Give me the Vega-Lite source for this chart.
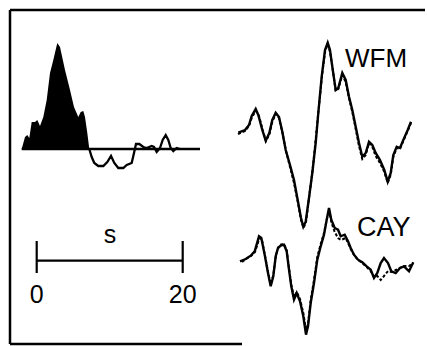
{
  "$schema": "https://vega.github.io/schema/vega-lite/v6.json",
  "width": 427,
  "height": 346,
  "autosize": {"type": "fit", "contains": "padding"},
  "padding": 0,
  "background": "white",
  "config": {"view": {"stroke": null}},
  "datasets": {
    "stfPos": [
      {"x": 21.7, "y": 149}, {"x": 25, "y": 137}, {"x": 27.3, "y": 135}, {"x": 29.3, "y": 138},
      {"x": 31.7, "y": 122}, {"x": 35, "y": 122}, {"x": 37.3, "y": 120}, {"x": 40, "y": 126},
      {"x": 43.3, "y": 117}, {"x": 46.7, "y": 100}, {"x": 50, "y": 73}, {"x": 53.3, "y": 60},
      {"x": 57.3, "y": 43}, {"x": 60, "y": 47}, {"x": 65, "y": 70}, {"x": 70, "y": 90},
      {"x": 74, "y": 107}, {"x": 78.3, "y": 117}, {"x": 80.7, "y": 112}, {"x": 83.3, "y": 111},
      {"x": 85, "y": 117}, {"x": 87.3, "y": 133}, {"x": 89.3, "y": 149}
    ],
    "stfNeg": [
      {"x": 89.3, "y": 149}, {"x": 91.7, "y": 157}, {"x": 94.3, "y": 163}, {"x": 98.3, "y": 166},
      {"x": 103.3, "y": 166}, {"x": 107.3, "y": 162}, {"x": 111, "y": 156}, {"x": 114.3, "y": 163},
      {"x": 118.3, "y": 168}, {"x": 123.3, "y": 168}, {"x": 126.7, "y": 165}, {"x": 131.7, "y": 163},
      {"x": 134, "y": 153}, {"x": 136, "y": 144}, {"x": 139.3, "y": 144}, {"x": 143.3, "y": 147},
      {"x": 146.7, "y": 148}, {"x": 151.7, "y": 146}, {"x": 154, "y": 147}, {"x": 156.7, "y": 152},
      {"x": 160, "y": 148}, {"x": 162.7, "y": 140}, {"x": 165.7, "y": 135}, {"x": 168.3, "y": 140},
      {"x": 170.7, "y": 148}, {"x": 173.3, "y": 151}, {"x": 176.7, "y": 148}, {"x": 180, "y": 149}
    ],
    "waves": [
      {"trace": "WFM", "kind": "obs", "x": 238.3, "y": 132.7}, {"trace": "WFM", "kind": "obs", "x": 245, "y": 130},
      {"trace": "WFM", "kind": "obs", "x": 249, "y": 125}, {"trace": "WFM", "kind": "obs", "x": 251.7, "y": 116},
      {"trace": "WFM", "kind": "obs", "x": 255.7, "y": 109}, {"trace": "WFM", "kind": "obs", "x": 258.3, "y": 115},
      {"trace": "WFM", "kind": "obs", "x": 262.3, "y": 130}, {"trace": "WFM", "kind": "obs", "x": 265.7, "y": 140.7},
      {"trace": "WFM", "kind": "obs", "x": 269.3, "y": 133}, {"trace": "WFM", "kind": "obs", "x": 272.3, "y": 120},
      {"trace": "WFM", "kind": "obs", "x": 275.7, "y": 112.7}, {"trace": "WFM", "kind": "obs", "x": 279, "y": 117},
      {"trace": "WFM", "kind": "obs", "x": 282.3, "y": 131.7}, {"trace": "WFM", "kind": "obs", "x": 285.7, "y": 150},
      {"trace": "WFM", "kind": "obs", "x": 290, "y": 165}, {"trace": "WFM", "kind": "obs", "x": 294, "y": 180},
      {"trace": "WFM", "kind": "obs", "x": 297.7, "y": 200}, {"trace": "WFM", "kind": "obs", "x": 301, "y": 218},
      {"trace": "WFM", "kind": "obs", "x": 303.3, "y": 226.7}, {"trace": "WFM", "kind": "obs", "x": 305.7, "y": 221.7},
      {"trace": "WFM", "kind": "obs", "x": 308.3, "y": 203}, {"trace": "WFM", "kind": "obs", "x": 312.3, "y": 173},
      {"trace": "WFM", "kind": "obs", "x": 315.7, "y": 143}, {"trace": "WFM", "kind": "obs", "x": 318.3, "y": 113},
      {"trace": "WFM", "kind": "obs", "x": 321.7, "y": 76.7}, {"trace": "WFM", "kind": "obs", "x": 325, "y": 50},
      {"trace": "WFM", "kind": "obs", "x": 327.7, "y": 42.7}, {"trace": "WFM", "kind": "obs", "x": 330, "y": 50},
      {"trace": "WFM", "kind": "obs", "x": 332.3, "y": 66.7}, {"trace": "WFM", "kind": "obs", "x": 335.7, "y": 90},
      {"trace": "WFM", "kind": "obs", "x": 338.3, "y": 88}, {"trace": "WFM", "kind": "obs", "x": 342.3, "y": 73},
      {"trace": "WFM", "kind": "obs", "x": 345.7, "y": 80}, {"trace": "WFM", "kind": "obs", "x": 349, "y": 96.7},
      {"trace": "WFM", "kind": "obs", "x": 352.3, "y": 110}, {"trace": "WFM", "kind": "obs", "x": 355.7, "y": 126.7},
      {"trace": "WFM", "kind": "obs", "x": 359, "y": 143}, {"trace": "WFM", "kind": "obs", "x": 362.3, "y": 156.7},
      {"trace": "WFM", "kind": "obs", "x": 365.7, "y": 153}, {"trace": "WFM", "kind": "obs", "x": 369, "y": 141.7},
      {"trace": "WFM", "kind": "obs", "x": 372.3, "y": 145}, {"trace": "WFM", "kind": "obs", "x": 375.7, "y": 153},
      {"trace": "WFM", "kind": "obs", "x": 380, "y": 160}, {"trace": "WFM", "kind": "obs", "x": 384.3, "y": 170},
      {"trace": "WFM", "kind": "obs", "x": 387.7, "y": 181.7}, {"trace": "WFM", "kind": "obs", "x": 390.7, "y": 173},
      {"trace": "WFM", "kind": "obs", "x": 393.3, "y": 155}, {"trace": "WFM", "kind": "obs", "x": 396.7, "y": 146.7},
      {"trace": "WFM", "kind": "obs", "x": 400, "y": 148}, {"trace": "WFM", "kind": "obs", "x": 403.3, "y": 140},
      {"trace": "WFM", "kind": "obs", "x": 407.7, "y": 130}, {"trace": "WFM", "kind": "obs", "x": 411, "y": 121.7},

      {"trace": "WFM", "kind": "syn", "x": 238, "y": 134}, {"trace": "WFM", "kind": "syn", "x": 245, "y": 131},
      {"trace": "WFM", "kind": "syn", "x": 249, "y": 126}, {"trace": "WFM", "kind": "syn", "x": 252, "y": 117},
      {"trace": "WFM", "kind": "syn", "x": 256, "y": 111}, {"trace": "WFM", "kind": "syn", "x": 259, "y": 116},
      {"trace": "WFM", "kind": "syn", "x": 263, "y": 131}, {"trace": "WFM", "kind": "syn", "x": 266, "y": 141},
      {"trace": "WFM", "kind": "syn", "x": 269.5, "y": 134}, {"trace": "WFM", "kind": "syn", "x": 272.5, "y": 121},
      {"trace": "WFM", "kind": "syn", "x": 276, "y": 114}, {"trace": "WFM", "kind": "syn", "x": 279, "y": 118},
      {"trace": "WFM", "kind": "syn", "x": 282.5, "y": 133}, {"trace": "WFM", "kind": "syn", "x": 286, "y": 151},
      {"trace": "WFM", "kind": "syn", "x": 290, "y": 167}, {"trace": "WFM", "kind": "syn", "x": 294, "y": 183},
      {"trace": "WFM", "kind": "syn", "x": 298, "y": 203}, {"trace": "WFM", "kind": "syn", "x": 301, "y": 220},
      {"trace": "WFM", "kind": "syn", "x": 303.5, "y": 228}, {"trace": "WFM", "kind": "syn", "x": 306, "y": 222},
      {"trace": "WFM", "kind": "syn", "x": 308.5, "y": 202}, {"trace": "WFM", "kind": "syn", "x": 312.5, "y": 171},
      {"trace": "WFM", "kind": "syn", "x": 315.5, "y": 141}, {"trace": "WFM", "kind": "syn", "x": 318.5, "y": 111},
      {"trace": "WFM", "kind": "syn", "x": 322, "y": 76}, {"trace": "WFM", "kind": "syn", "x": 325, "y": 52},
      {"trace": "WFM", "kind": "syn", "x": 327.7, "y": 44}, {"trace": "WFM", "kind": "syn", "x": 330, "y": 52},
      {"trace": "WFM", "kind": "syn", "x": 332.5, "y": 68}, {"trace": "WFM", "kind": "syn", "x": 335.7, "y": 91},
      {"trace": "WFM", "kind": "syn", "x": 338.3, "y": 89}, {"trace": "WFM", "kind": "syn", "x": 342.3, "y": 75},
      {"trace": "WFM", "kind": "syn", "x": 345.7, "y": 82}, {"trace": "WFM", "kind": "syn", "x": 349, "y": 98},
      {"trace": "WFM", "kind": "syn", "x": 352.3, "y": 112}, {"trace": "WFM", "kind": "syn", "x": 355.7, "y": 129},
      {"trace": "WFM", "kind": "syn", "x": 359, "y": 146}, {"trace": "WFM", "kind": "syn", "x": 362.3, "y": 159},
      {"trace": "WFM", "kind": "syn", "x": 365.7, "y": 155}, {"trace": "WFM", "kind": "syn", "x": 369, "y": 143},
      {"trace": "WFM", "kind": "syn", "x": 372.3, "y": 147}, {"trace": "WFM", "kind": "syn", "x": 375.7, "y": 156},
      {"trace": "WFM", "kind": "syn", "x": 380, "y": 163}, {"trace": "WFM", "kind": "syn", "x": 384.3, "y": 172},
      {"trace": "WFM", "kind": "syn", "x": 387.7, "y": 183}, {"trace": "WFM", "kind": "syn", "x": 390.7, "y": 175},
      {"trace": "WFM", "kind": "syn", "x": 393.3, "y": 157}, {"trace": "WFM", "kind": "syn", "x": 396.7, "y": 148},
      {"trace": "WFM", "kind": "syn", "x": 400, "y": 149}, {"trace": "WFM", "kind": "syn", "x": 403.3, "y": 141},
      {"trace": "WFM", "kind": "syn", "x": 407.7, "y": 131}, {"trace": "WFM", "kind": "syn", "x": 411, "y": 123},

      {"trace": "CAY", "kind": "obs", "x": 240, "y": 261.3}, {"trace": "CAY", "kind": "obs", "x": 245.7, "y": 259},
      {"trace": "CAY", "kind": "obs", "x": 250.7, "y": 255.7}, {"trace": "CAY", "kind": "obs", "x": 254.7, "y": 251.3},
      {"trace": "CAY", "kind": "obs", "x": 259, "y": 236.3}, {"trace": "CAY", "kind": "obs", "x": 261.3, "y": 238},
      {"trace": "CAY", "kind": "obs", "x": 264.7, "y": 254.7}, {"trace": "CAY", "kind": "obs", "x": 268, "y": 273},
      {"trace": "CAY", "kind": "obs", "x": 270.7, "y": 286.3}, {"trace": "CAY", "kind": "obs", "x": 273.3, "y": 276.3},
      {"trace": "CAY", "kind": "obs", "x": 275.7, "y": 256.3}, {"trace": "CAY", "kind": "obs", "x": 278, "y": 248},
      {"trace": "CAY", "kind": "obs", "x": 280.7, "y": 245.7}, {"trace": "CAY", "kind": "obs", "x": 284, "y": 244.7},
      {"trace": "CAY", "kind": "obs", "x": 286.7, "y": 251.3}, {"trace": "CAY", "kind": "obs", "x": 289, "y": 269.7},
      {"trace": "CAY", "kind": "obs", "x": 291.3, "y": 286.3}, {"trace": "CAY", "kind": "obs", "x": 294, "y": 299.7},
      {"trace": "CAY", "kind": "obs", "x": 296.7, "y": 293}, {"trace": "CAY", "kind": "obs", "x": 300, "y": 301.3},
      {"trace": "CAY", "kind": "obs", "x": 303.3, "y": 316.3}, {"trace": "CAY", "kind": "obs", "x": 306, "y": 334.7},
      {"trace": "CAY", "kind": "obs", "x": 308, "y": 326.3}, {"trace": "CAY", "kind": "obs", "x": 310.7, "y": 303},
      {"trace": "CAY", "kind": "obs", "x": 314, "y": 283}, {"trace": "CAY", "kind": "obs", "x": 317.3, "y": 259.7},
      {"trace": "CAY", "kind": "obs", "x": 320.7, "y": 246.3}, {"trace": "CAY", "kind": "obs", "x": 324, "y": 234.7},
      {"trace": "CAY", "kind": "obs", "x": 326.7, "y": 219.7}, {"trace": "CAY", "kind": "obs", "x": 329, "y": 208},
      {"trace": "CAY", "kind": "obs", "x": 331.3, "y": 219.7}, {"trace": "CAY", "kind": "obs", "x": 334.7, "y": 228},
      {"trace": "CAY", "kind": "obs", "x": 338, "y": 229.7}, {"trace": "CAY", "kind": "obs", "x": 340.7, "y": 236.3},
      {"trace": "CAY", "kind": "obs", "x": 344.7, "y": 234.7}, {"trace": "CAY", "kind": "obs", "x": 348, "y": 241.3},
      {"trace": "CAY", "kind": "obs", "x": 350.7, "y": 248}, {"trace": "CAY", "kind": "obs", "x": 354, "y": 254.7},
      {"trace": "CAY", "kind": "obs", "x": 358, "y": 259.7}, {"trace": "CAY", "kind": "obs", "x": 362.3, "y": 262.3},
      {"trace": "CAY", "kind": "obs", "x": 366.7, "y": 266.3}, {"trace": "CAY", "kind": "obs", "x": 370.7, "y": 269.7},
      {"trace": "CAY", "kind": "obs", "x": 374, "y": 278}, {"trace": "CAY", "kind": "obs", "x": 377.3, "y": 273},
      {"trace": "CAY", "kind": "obs", "x": 380.7, "y": 263}, {"trace": "CAY", "kind": "obs", "x": 384, "y": 258},
      {"trace": "CAY", "kind": "obs", "x": 388, "y": 263}, {"trace": "CAY", "kind": "obs", "x": 391.3, "y": 271.3},
      {"trace": "CAY", "kind": "obs", "x": 395.7, "y": 273}, {"trace": "CAY", "kind": "obs", "x": 400, "y": 268},
      {"trace": "CAY", "kind": "obs", "x": 404, "y": 266.3}, {"trace": "CAY", "kind": "obs", "x": 409, "y": 271.3},
      {"trace": "CAY", "kind": "obs", "x": 413.3, "y": 262.3},

      {"trace": "CAY", "kind": "syn", "x": 242, "y": 262}, {"trace": "CAY", "kind": "syn", "x": 246, "y": 259},
      {"trace": "CAY", "kind": "syn", "x": 251, "y": 256}, {"trace": "CAY", "kind": "syn", "x": 255, "y": 252},
      {"trace": "CAY", "kind": "syn", "x": 259.5, "y": 238}, {"trace": "CAY", "kind": "syn", "x": 262, "y": 240},
      {"trace": "CAY", "kind": "syn", "x": 265, "y": 256}, {"trace": "CAY", "kind": "syn", "x": 268, "y": 272},
      {"trace": "CAY", "kind": "syn", "x": 270.7, "y": 284}, {"trace": "CAY", "kind": "syn", "x": 273.3, "y": 275},
      {"trace": "CAY", "kind": "syn", "x": 276, "y": 255}, {"trace": "CAY", "kind": "syn", "x": 278.5, "y": 247},
      {"trace": "CAY", "kind": "syn", "x": 281, "y": 244.5}, {"trace": "CAY", "kind": "syn", "x": 284, "y": 244},
      {"trace": "CAY", "kind": "syn", "x": 286.7, "y": 250}, {"trace": "CAY", "kind": "syn", "x": 289, "y": 268},
      {"trace": "CAY", "kind": "syn", "x": 291.3, "y": 285}, {"trace": "CAY", "kind": "syn", "x": 294, "y": 297},
      {"trace": "CAY", "kind": "syn", "x": 296.7, "y": 292}, {"trace": "CAY", "kind": "syn", "x": 300, "y": 299},
      {"trace": "CAY", "kind": "syn", "x": 303.3, "y": 313}, {"trace": "CAY", "kind": "syn", "x": 306, "y": 330},
      {"trace": "CAY", "kind": "syn", "x": 308, "y": 324}, {"trace": "CAY", "kind": "syn", "x": 310.7, "y": 300},
      {"trace": "CAY", "kind": "syn", "x": 314, "y": 280}, {"trace": "CAY", "kind": "syn", "x": 317.3, "y": 257},
      {"trace": "CAY", "kind": "syn", "x": 320.7, "y": 244}, {"trace": "CAY", "kind": "syn", "x": 324, "y": 233},
      {"trace": "CAY", "kind": "syn", "x": 326.7, "y": 220}, {"trace": "CAY", "kind": "syn", "x": 329, "y": 210},
      {"trace": "CAY", "kind": "syn", "x": 331.3, "y": 222}, {"trace": "CAY", "kind": "syn", "x": 334.7, "y": 232},
      {"trace": "CAY", "kind": "syn", "x": 338, "y": 238}, {"trace": "CAY", "kind": "syn", "x": 341, "y": 240},
      {"trace": "CAY", "kind": "syn", "x": 345.7, "y": 238}, {"trace": "CAY", "kind": "syn", "x": 348, "y": 243},
      {"trace": "CAY", "kind": "syn", "x": 350.7, "y": 249}, {"trace": "CAY", "kind": "syn", "x": 354, "y": 255},
      {"trace": "CAY", "kind": "syn", "x": 358, "y": 260}, {"trace": "CAY", "kind": "syn", "x": 362.3, "y": 263},
      {"trace": "CAY", "kind": "syn", "x": 366.7, "y": 267}, {"trace": "CAY", "kind": "syn", "x": 370.7, "y": 271},
      {"trace": "CAY", "kind": "syn", "x": 374, "y": 277}, {"trace": "CAY", "kind": "syn", "x": 377.3, "y": 276},
      {"trace": "CAY", "kind": "syn", "x": 380.7, "y": 280}, {"trace": "CAY", "kind": "syn", "x": 384, "y": 276},
      {"trace": "CAY", "kind": "syn", "x": 388, "y": 271}, {"trace": "CAY", "kind": "syn", "x": 391.3, "y": 272},
      {"trace": "CAY", "kind": "syn", "x": 395.7, "y": 270}, {"trace": "CAY", "kind": "syn", "x": 400, "y": 268},
      {"trace": "CAY", "kind": "syn", "x": 404, "y": 266}, {"trace": "CAY", "kind": "syn", "x": 409, "y": 266},
      {"trace": "CAY", "kind": "syn", "x": 413.3, "y": 263}
    ],
    "frame": [
      {"x": 10, "x2": 10, "y": 10, "y2": 344},
      {"x": 10, "x2": 425, "y": 10, "y2": 10},
      {"x": 10, "x2": 242, "y": 344, "y2": 344}
    ],
    "scalebar": [
      {"x": 36.7, "x2": 182.7, "y": 260.7, "y2": 260.7},
      {"x": 36.7, "x2": 36.7, "y": 241, "y2": 273},
      {"x": 182.7, "x2": 182.7, "y": 241, "y2": 273}
    ],
    "baseline": [
      {"x": 21.7, "x2": 200, "y": 149, "y2": 149}
    ],
    "labels": [
      {"label": "WFM", "group": "station", "x": 345, "y": 67},
      {"label": "CAY", "group": "station2", "x": 357, "y": 236},
      {"label": "s", "group": "unit", "x": 110, "y": 243},
      {"label": "0", "group": "tick", "x": 36.7, "y": 303},
      {"label": "20", "group": "tick", "x": 182.7, "y": 303}
    ]
  },
  "layer": [
    {
      "data": {"name": "stfPos"},
      "mark": {"type": "area", "color": "black", "interpolate": "linear"},
      "encoding": {
        "x": {"field": "x", "type": "quantitative", "scale": {"domain": [0, 427], "nice": false, "zero": false}, "axis": null},
        "y": {"field": "y", "type": "quantitative", "scale": {"domain": [0, 346], "nice": false, "zero": false, "reverse": true}, "axis": null},
        "y2": {"datum": 149}
      }
    },
    {
      "data": {"name": "stfNeg"},
      "mark": {"type": "line", "color": "black", "strokeWidth": 2.3},
      "encoding": {
        "x": {"field": "x", "type": "quantitative"},
        "y": {"field": "y", "type": "quantitative"}
      }
    },
    {
      "data": {"name": "baseline"},
      "mark": {"type": "rule", "color": "black", "strokeWidth": 2.5},
      "encoding": {
        "x": {"field": "x", "type": "quantitative"}, "x2": {"field": "x2"},
        "y": {"field": "y", "type": "quantitative"}, "y2": {"field": "y2"}
      }
    },
    {
      "data": {"name": "frame"},
      "mark": {"type": "rule", "color": "black", "strokeWidth": 2.5},
      "encoding": {
        "x": {"field": "x", "type": "quantitative"}, "x2": {"field": "x2"},
        "y": {"field": "y", "type": "quantitative"}, "y2": {"field": "y2"}
      }
    },
    {
      "data": {"name": "scalebar"},
      "mark": {"type": "rule", "color": "black", "strokeWidth": 2.2},
      "encoding": {
        "x": {"field": "x", "type": "quantitative"}, "x2": {"field": "x2"},
        "y": {"field": "y", "type": "quantitative"}, "y2": {"field": "y2"}
      }
    },
    {
      "data": {"name": "waves"},
      "transform": [{"filter": "datum.kind === 'syn'"}],
      "mark": {"type": "line", "color": "black", "strokeWidth": 2, "strokeDash": [3, 2]},
      "encoding": {
        "x": {"field": "x", "type": "quantitative"},
        "y": {"field": "y", "type": "quantitative"},
        "detail": {"field": "trace"}
      }
    },
    {
      "data": {"name": "waves"},
      "transform": [{"filter": "datum.kind === 'obs'"}],
      "mark": {"type": "line", "color": "black", "strokeWidth": 2.4},
      "encoding": {
        "x": {"field": "x", "type": "quantitative"},
        "y": {"field": "y", "type": "quantitative"},
        "detail": {"field": "trace"}
      }
    },
    {
      "data": {"name": "labels"},
      "transform": [{"filter": "datum.group === 'station'"}],
      "mark": {"type": "text", "font": "Liberation Sans", "fontSize": 26, "align": "left", "baseline": "alphabetic", "color": "black"},
      "encoding": {
        "x": {"field": "x", "type": "quantitative"},
        "y": {"field": "y", "type": "quantitative"},
        "text": {"field": "label"}
      }
    },
    {
      "data": {"name": "labels"},
      "transform": [{"filter": "datum.group === 'station2'"}],
      "mark": {"type": "text", "font": "Liberation Sans", "fontSize": 27, "align": "left", "baseline": "alphabetic", "color": "black"},
      "encoding": {
        "x": {"field": "x", "type": "quantitative"},
        "y": {"field": "y", "type": "quantitative"},
        "text": {"field": "label"}
      }
    },
    {
      "data": {"name": "labels"},
      "transform": [{"filter": "datum.group === 'unit' || datum.group === 'tick'"}],
      "mark": {"type": "text", "font": "Liberation Sans", "fontSize": 25, "align": "center", "baseline": "alphabetic", "color": "black"},
      "encoding": {
        "x": {"field": "x", "type": "quantitative"},
        "y": {"field": "y", "type": "quantitative"},
        "text": {"field": "label"}
      }
    }
  ]
}
